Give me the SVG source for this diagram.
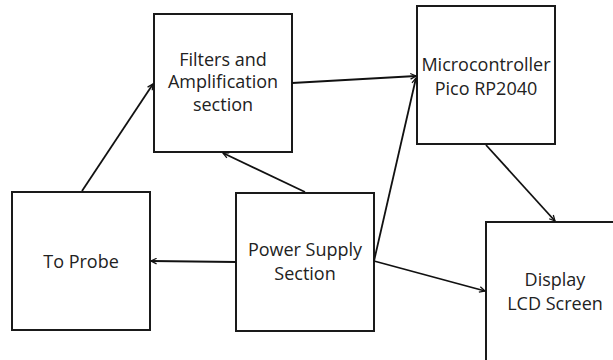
<svg xmlns="http://www.w3.org/2000/svg" width="613" height="360" viewBox="0 0 613 360">
  <style>
    .box { fill: #ffffff; stroke: #1a1a1a; stroke-width: 2; }
    .label { font-family: "Open Sans", "Liberation Sans", sans-serif; font-size: 18px; fill: #222222; text-anchor: middle; }
    .wire { fill: none; stroke: #111111; stroke-width: 1.8; marker-end: url(#head); }
  </style>
  <defs>
    <marker id="head" viewBox="0 0 10 10" refX="9" refY="5" markerWidth="7" markerHeight="7" markerUnits="userSpaceOnUse" orient="auto">
      <path d="M1,1 L9,5 L1,9" fill="none" stroke="#111111" stroke-width="1.8" stroke-linejoin="miter"/>
    </marker>
  </defs>
  <rect width="613" height="360" fill="#ffffff"/>

  <g id="filters">
    <rect class="box" x="154" y="14" width="138" height="138"/>
    <text class="label" x="223" y="65.5">Filters and</text>
    <text class="label" x="223" y="88">Amplification</text>
    <text class="label" x="223" y="111">section</text>
  </g>

  <g id="microcontroller">
    <rect class="box" x="417" y="6" width="138" height="138"/>
    <text class="label" x="486" y="71">Microcontroller</text>
    <text class="label" x="486" y="95">Pico RP2040</text>
  </g>

  <g id="probe">
    <rect class="box" x="12" y="192" width="138" height="138"/>
    <text class="label" x="81" y="268">To Probe</text>
  </g>

  <g id="power">
    <rect class="box" x="236" y="193" width="138" height="138"/>
    <text class="label" x="305" y="256">Power Supply</text>
    <text class="label" x="305" y="280">Section</text>
  </g>

  <g id="display">
    <rect class="box" x="486" y="222" width="138" height="140"/>
    <text class="label" x="555" y="286">Display</text>
    <text class="label" x="555" y="310">LCD Screen</text>
  </g>

  <g id="connectors">
    <line class="wire" x1="82" y1="191" x2="153" y2="84"/>
    <line class="wire" x1="292" y1="83" x2="416" y2="76"/>
    <line class="wire" x1="305" y1="192" x2="223" y2="153"/>
    <line class="wire" x1="236" y1="262" x2="151" y2="261"/>
    <line class="wire" x1="374" y1="261" x2="416" y2="78"/>
    <line class="wire" x1="374" y1="261" x2="485" y2="291"/>
    <line class="wire" x1="486" y1="145" x2="555" y2="221"/>
  </g>
</svg>
